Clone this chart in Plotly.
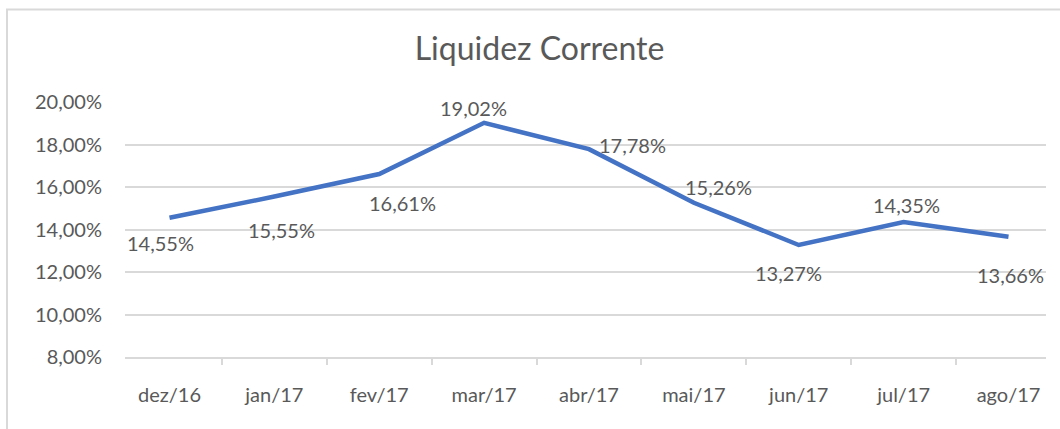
import plotly.graph_objects as go

categories = ["dez/16", "jan/17", "fev/17", "mar/17", "abr/17", "mai/17", "jun/17", "jul/17", "ago/17"]
values = [14.55, 15.55, 16.61, 19.02, 17.78, 15.26, 13.27, 14.35, 13.66]
y_ticks = [8, 10, 12, 14, 16, 18, 20]
y_tick_labels = ["8,00%", "10,00%", "12,00%", "14,00%", "16,00%", "18,00%", "20,00%"]

# label offsets (pixels) as placed in the reference
label_dx = [-9, 7, 23, -11, 43, 25, -10, 3, 2]
label_dy = [-25, -33, -29, 15, 4, 16, -28, 17, -38]

FONT = "Lato"
GREY = "#595959"

fig = go.Figure()
fig.add_trace(go.Scatter(
    x=categories, y=values, mode="lines",
    line=dict(color="#4472C4", width=4.5),
    hoverinfo="skip", showlegend=False,
))

for c, v, dx, dy in zip(categories, values, label_dx, label_dy):
    fig.add_annotation(
        x=c, y=v, xref="x", yref="y",
        text=f"{v:.2f}%".replace(".", ","),
        showarrow=False, xshift=dx, yshift=dy,
        font=dict(family=FONT, size=20, color=GREY),
    )

# chart frame
fig.add_shape(type="rect", xref="paper", yref="paper",
              x0=(7 - 125) / 921, x1=1.2, y0=-1.0, y1=(357 - 9.5) / 255,
              line=dict(color="#D9D9D9", width=2), fillcolor="rgba(0,0,0,0)", layer="below")

fig.update_layout(
    width=1060, height=429,
    margin=dict(l=125, r=14, t=102, b=72),
    paper_bgcolor="white", plot_bgcolor="white",
    title=dict(text="Liquidez Corrente", x=539.5 / 1060, xref="container", xanchor="center",
               y=1 - 49 / 429, yref="container", yanchor="middle",
               font=dict(family=FONT, size=32, color=GREY)),
    font=dict(family=FONT, color=GREY),
)
fig.update_xaxes(
    type="category", showgrid=False, showline=True, linecolor="#D9D9D9", linewidth=1.5,
    ticks="outside", tickson="boundaries", ticklen=6, tickcolor="#D9D9D9", tickwidth=1.5,
    tickfont=dict(family=FONT, size=20, color=GREY), ticklabelstandoff=19,
    zeroline=False,
)
fig.update_yaxes(
    range=[8, 20], tickvals=y_ticks, ticktext=y_tick_labels,
    showgrid=True, gridcolor="#D9D9D9", gridwidth=1.5, zeroline=False, showline=False,
    tickfont=dict(family=FONT, size=20, color=GREY), ticklabelstandoff=22,
)

fig.write_html("out.html", config={"displayModeBar": False},
               post_script="document.body.style.margin='0';document.body.style.overflow='hidden';")
